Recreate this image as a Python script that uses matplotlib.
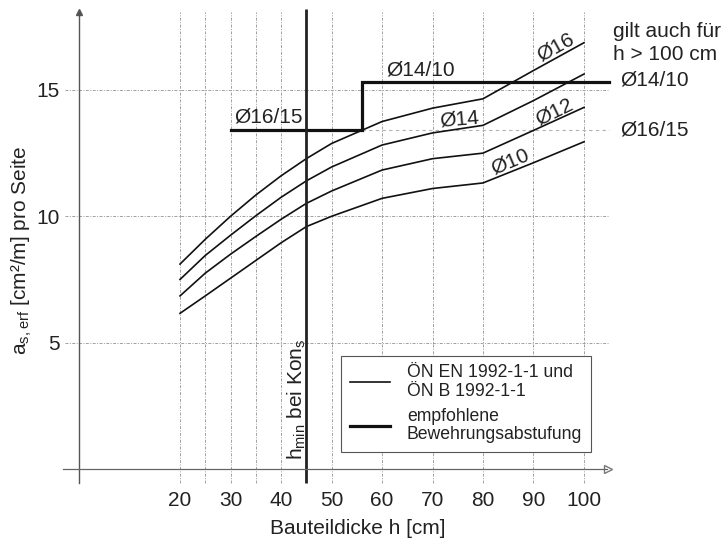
import numpy as np
import matplotlib.pyplot as plt

plt.rcParams['font.family'] = ['Liberation Sans', 'DejaVu Sans']

# Bauteildicke h [cm]
h = [20, 25, 30, 35, 40, 45, 50, 60, 70, 80, 90, 100]
# a_s,erf [cm2/m] per bar diameter
as_d16 = [8.11, 9.09, 10.0, 10.84, 11.6, 12.28, 12.88, 13.75, 14.28, 14.65, 15.77, 16.87]
as_d14 = [7.5, 8.45, 9.25, 10.02, 10.75, 11.4, 11.95, 12.82, 13.3, 13.6, 14.58, 15.63]
as_d12 = [6.85, 7.75, 8.5, 9.2, 9.88, 10.51, 11.0, 11.83, 12.28, 12.5, 13.4, 14.31]
as_d10 = [6.16, 6.85, 7.55, 8.25, 8.95, 9.59, 10.0, 10.71, 11.1, 11.32, 12.12, 12.95]

# empfohlene Bewehrungsabstufung
step_h = [30, 56, 56, 105]
step_as = [13.41, 13.41, 15.32, 15.32]
ref_h = [56, 105]
ref_as = [13.41, 13.41]

grid_x = [20, 25, 30, 35, 40, 50, 60, 70, 80, 90, 100]
grid_y = [5, 10, 15]
x_ticks = [20, 30, 40, 50, 60, 70, 80, 90, 100]
y_ticks = [5, 10, 15]
h_min = 45

fig = plt.figure(figsize=(7.24, 5.43), dpi=100)
ax = fig.add_axes([0, 0, 1, 1])
ax.set_xlim(-15.644, 127.723)
ax.set_ylim(-2.928, 18.56)

gcol = "#a0a0a0"
gls = (0, (3, 1.5, 1, 1.5))
ax.vlines(grid_x, -0.55, 18.1, colors=gcol, linestyles=gls, lw=0.7)
ax.hlines(grid_y, -2.8, 104.8, colors=gcol, linestyles=gls, lw=0.7)
ax.plot(ref_h, ref_as, color="#b0b0b0", ls=(0, (3, 3)), lw=0.8)

# axes lines with arrows
for s in ["top", "right"]:
    ax.spines[s].set_visible(False)
ax.spines["left"].set_position(("data", 0))
ax.spines["bottom"].set_position(("data", 0))
ax.spines["left"].set_bounds(-0.55, 18.0)
ax.spines["bottom"].set_bounds(-3.2, 104.5)
ax.spines["left"].set_color("#555555")
ax.spines["bottom"].set_color("#666666")
ax.spines["left"].set_linewidth(1.0)
ax.spines["bottom"].set_linewidth(0.9)
ax.plot([0], [18.1], marker="^", ms=5, color="#555555", clip_on=False)
ax.plot([104.8], [0], marker=">", ms=6, color="#777777", mfc="white", clip_on=False)

ax.set_xticks(x_ticks)
ax.set_yticks(y_ticks)
ax.tick_params(axis="x", length=0, pad=16, labelsize=15, labelcolor="#222222")
ax.tick_params(axis="y", length=0, pad=14, labelsize=15, labelcolor="#222222")

# curves
ax.plot(h, as_d16, color="#111111", lw=1.2, label="ÖN EN 1992-1-1 und\nÖN B 1992-1-1")
ax.plot(h, as_d14, color="#111111", lw=1.2)
ax.plot(h, as_d12, color="#111111", lw=1.2)
ax.plot(h, as_d10, color="#111111", lw=1.2)
ax.plot(step_h, step_as, color="#111111", lw=2.3, solid_joinstyle="miter",
        label="empfohlene\nBewehrungsabstufung")
ax.vlines([h_min], -0.55, 18.2, colors="#222222", lw=2.0)

tc = "#222222"
ax.text(43.1, 0.35, "h$_{\\mathregular{min}}$ bei Kon$_{\\mathregular{s}}$", rotation=90,
        ha="center", va="bottom", fontsize=15, color=tc)
ax.text(30.8, 13.72, "Ø16/15", fontsize=15, color=tc, va="baseline")
ax.text(60.9, 15.59, "Ø14/10", fontsize=15, color=tc, va="baseline")
ax.text(105.7, 17.1, "gilt auch für", fontsize=15, color=tc, va="baseline")
ax.text(105.7, 16.18, "h > 100 cm", fontsize=15, color=tc, va="baseline")
ax.text(107.1, 15.39, "Ø14/10", fontsize=15, color=tc, va="center")
ax.text(107.1, 13.41, "Ø16/15", fontsize=15, color=tc, va="center")
ax.text(94.3, 16.7, "Ø16", fontsize=15, color=tc, rotation=29, ha="center", va="center")
ax.text(94.1, 14.14, "Ø12", fontsize=15, color=tc, rotation=26, ha="center", va="center")
ax.text(85.3, 12.16, "Ø10", fontsize=15, color=tc, rotation=23, ha="center", va="center")
ax.text(75.4, 13.84, "Ø14", fontsize=15, color=tc, rotation=5, ha="center", va="center")

fig.text(21.7 / 724, 1 - 250.5 / 543, "a$_{\\mathregular{s,erf}}$ [cm²/m] pro Seite",
         rotation=90, ha="center", va="center", fontsize=15, color=tc)
fig.text(357.5 / 724, 1 - 528 / 543, "Bauteildicke h [cm]",
         ha="center", va="center", fontsize=15, color=tc)

leg = ax.legend(loc="lower right", bbox_to_anchor=(101.4, 0.68), bbox_transform=ax.transData,
                fontsize=12.7, frameon=True, fancybox=False, edgecolor="#555555",
                framealpha=1, handlelength=2.3, handletextpad=0.95, labelspacing=0.45,
                borderpad=0.5, borderaxespad=0)
leg.get_frame().set_linewidth(0.8)
for t in leg.get_texts():
    t.set_linespacing(1.1)
    t.set_color(tc)

fig.savefig("out.png", dpi=100)
